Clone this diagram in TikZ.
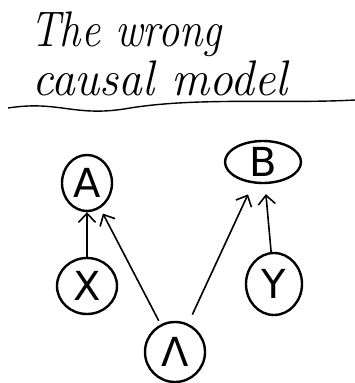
\documentclass[tikz,border=0pt]{standalone}
\usepackage{fontspec}
\newfontfamily\handfont{DejaVu Sans}
\usetikzlibrary{arrows.meta,shapes.geometric}

\tikzstyle{var}=[ellipse, draw=black, line width=2.4pt, inner sep=0pt, font=\handfont\fontsize{40}{42}\selectfont]
\tikzstyle{cause}=[line width=1.6pt, -{Straight Barb[length=9pt,width=17pt,line width=1.6pt]}]
\tikzstyle{title}=[anchor=west, inner sep=0pt, font=\itshape\fontsize{50}{52}\selectfont]

\begin{document}
\begin{tikzpicture}[x=1pt, y=-1pt]
	\useasboundingbox (0,0) rectangle (355,383);

	% Heading
	\node[title, xscale=0.85] (t1) at (30, 34) {The wrong};
	\node[title, xscale=0.95] (t2) at (32, 78) {causal model};
	\draw[line width=1.4pt] (8,108) .. controls (60,100) and (75,118) .. (130,108)
		.. controls (200,97) and (280,104) .. (355,100);

	% Variables
	\node[var, minimum width=50pt, minimum height=56pt] (A) at (87,183) {A};
	\node[var, minimum width=76pt, minimum height=42pt] (B) at (263,162) {B};
	\node[var, minimum width=60pt, minimum height=56pt] (X) at (87,286) {X};
	\node[var, minimum width=56pt, minimum height=62pt] (Y) at (274,284) {Y};
	\node[var, minimum width=60pt, minimum height=60pt] (L) at (175,352) {Λ};

	% Arrows
	\draw[cause] (X) -- (A);
	\draw[cause, shorten >=6pt, shorten <=4pt] (L) -- (A);
	\draw[cause, shorten >=12pt, shorten <=10pt] (L) -- (B);
	\draw[cause, shorten >=10pt] (Y) -- (B);
\end{tikzpicture}
\end{document}
